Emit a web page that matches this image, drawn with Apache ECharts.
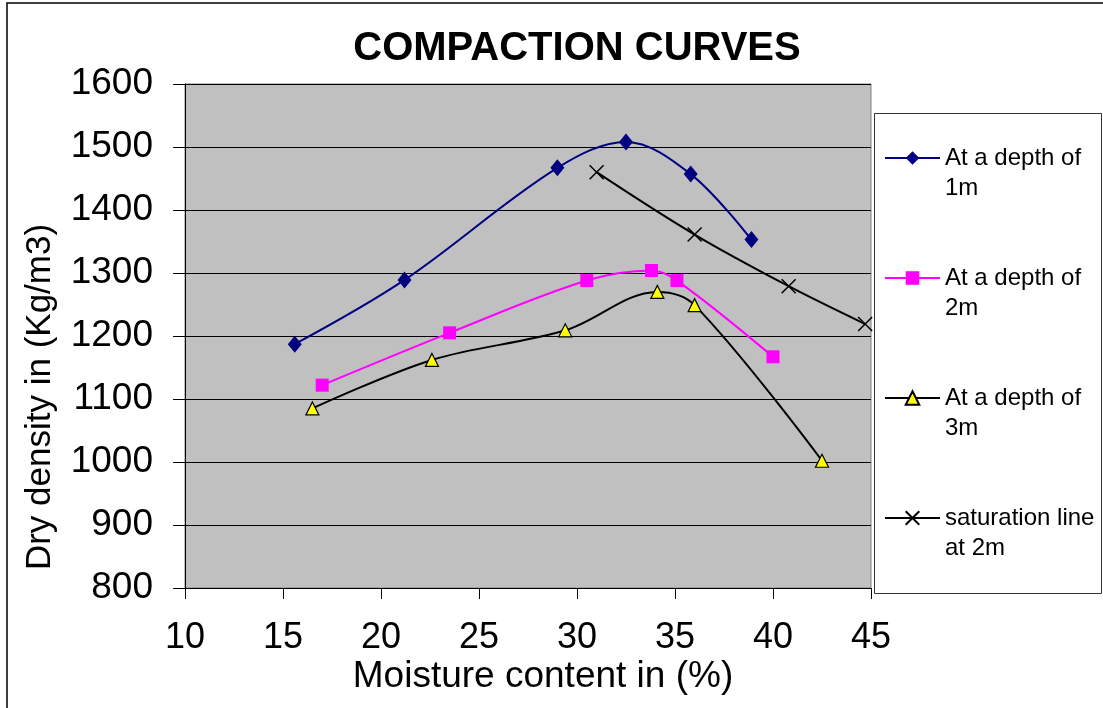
<!DOCTYPE html>
<html>
<head>
<meta charset="utf-8">
<script src="https://cdn.jsdelivr.net/npm/echarts@6/dist/echarts.min.js"></script>
<style>
html,body{margin:0;padding:0;background:#fff;}
#chart{width:1103px;height:708px;}
</style>
</head>
<body>
<div id="chart"></div>
<script>
const titleText = 'COMPACTION CURVES';
const xAxisName = 'Moisture content in (%)';
const yAxisName = 'Dry density in (Kg/m3)';
const seriesNames = ['At a depth of\n1m', 'At a depth of\n2m', 'At a depth of\n3m', 'saturation line\nat 2m'];

const moisture1 = [15.6, 21.2, 29.0, 32.5, 35.8, 38.9];
const density1 = [1187, 1289, 1467, 1508, 1457, 1353];
const moisture2 = [17.0, 23.5, 30.5, 33.8, 35.1, 40.0];
const density2 = [1122, 1205, 1288, 1304, 1288, 1167];
const moisture3 = [16.5, 22.6, 29.4, 34.1, 36.0, 42.5];
const density3 = [1085, 1162, 1209, 1270, 1249, 1002];
const moistureSat = [31.0, 36.0, 40.8, 44.7];
const densitySat = [1460, 1361, 1279, 1219];

const xMin = 10, xMax = 45, xStep = 5;
const yMin = 800, yMax = 1600, yStep = 100;

function pairs(xs, ys) { return xs.map((x, i) => [x, ys[i]]); }

const FONT = 'Liberation Sans, Arial, sans-serif';
const chart = echarts.init(document.getElementById('chart'), null, {renderer: 'canvas'});

const xPath = 'path://M0,0L10,10M10,0L0,10';

chart.setOption({
  animation: false,
  backgroundColor: '#ffffff',
  title: {
    text: titleText,
    left: 572,
    textAlign: 'center',
    top: 24,
    textStyle: {fontFamily: 'Liberation Sans Narrow, Arial Narrow, Liberation Sans, sans-serif', fontWeight: 'bold', fontSize: 40, color: '#000'}
  },
  grid: {
    left: 185, top: 84, right: 232, bottom: 120,
    show: true, backgroundColor: '#C0C0C0', borderColor: '#808080', borderWidth: 1
  },
  legend: {
    left: 884, top: 113, orient: 'vertical', itemGap: 30,
    itemWidth: 55, itemHeight: 17,
    padding: 0,
    textStyle: {fontFamily: FONT, fontSize: 24, color: '#000', lineHeight: 30},
    formatter: function (n) { return '\n' + n; },
    data: seriesNames
  },
  xAxis: {
    type: 'value', min: xMin, max: xMax, interval: xStep,
    axisLine: {show: true, onZero: false, lineStyle: {color: '#000', width: 1}},
    axisTick: {show: true, length: 11, lineStyle: {color: '#000'}},
    axisLabel: {fontFamily: FONT, fontSize: 36, color: '#000', margin: 32, formatter: function (v) { return String(v); }},
    splitLine: {show: false}
  },
  yAxis: {
    type: 'value', min: yMin, max: yMax, interval: yStep,
    axisLine: {show: true, lineStyle: {color: '#000', width: 1}},
    axisTick: {show: true, length: 12, lineStyle: {color: '#000'}},
    axisLabel: {fontFamily: FONT, fontSize: 37, color: '#000', margin: 32, formatter: function (v) { return String(v); }},
    splitLine: {show: true, lineStyle: {color: '#000', width: 1}}
  },
  graphic: [
    {type: 'rect', shape: {x: 7, y: 3, width: 1200, height: 800}, style: {fill: 'none', stroke: '#000', lineWidth: 1.5}, silent: true, z: -1},
    {type: 'rect', shape: {x: 874.5, y: 113.5, width: 227, height: 480}, style: {fill: '#fff', stroke: '#333', lineWidth: 1}, silent: true, z: -1},
    {type: 'text', x: 543, y: 677, style: {text: xAxisName, font: '37px ' + FONT, fill: '#000', textAlign: 'center', textVerticalAlign: 'middle'}},
    {type: 'text', x: 40, y: 397, rotation: Math.PI / 2, style: {text: yAxisName, font: '35px ' + FONT, fill: '#000', textAlign: 'center', textVerticalAlign: 'middle'}}
  ],
  series: [
    {
      name: seriesNames[0], type: 'line', smooth: 0.35, data: pairs(moisture1, density1),
      symbol: 'diamond', symbolSize: [14, 17],
      lineStyle: {color: '#000080', width: 2},
      itemStyle: {color: '#000080'}
    },
    {
      name: seriesNames[1], type: 'line', smooth: 0.35, data: pairs(moisture2, density2),
      symbol: 'rect', symbolSize: 13,
      lineStyle: {color: '#FF00FF', width: 2},
      itemStyle: {color: '#FF00FF'}
    },
    {
      name: seriesNames[2], type: 'line', smooth: 0.35, data: pairs(moisture3, density3),
      symbol: 'triangle', symbolSize: [13, 13],
      lineStyle: {color: '#000', width: 2},
      itemStyle: {color: '#FFFF00', borderColor: '#000', borderWidth: 1.2}
    },
    {
      name: seriesNames[3], type: 'line', smooth: 0.35, data: pairs(moistureSat, densitySat),
      symbol: xPath, symbolSize: 14,
      lineStyle: {color: '#000', width: 2},
      itemStyle: {color: '#000', borderColor: '#000', borderWidth: 1.5}
    }
  ]
});
</script>
</body>
</html>
